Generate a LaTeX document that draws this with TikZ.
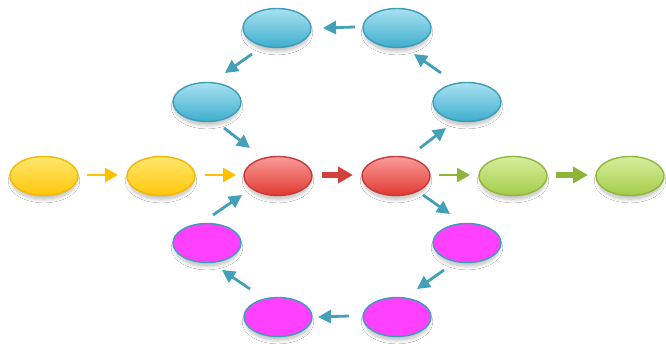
\documentclass[tikz,border=0pt]{standalone}
\usetikzlibrary{arrows.meta,calc,shapes.geometric,shadows.blur}

\definecolor{ylwTop}{HTML}{FFE66E}
\definecolor{ylwBot}{HTML}{FFC70A}
\definecolor{ylwLine}{HTML}{F5B800}
\definecolor{redTop}{HTML}{F99C9A}
\definecolor{redBot}{HTML}{E0392F}
\definecolor{redLine}{HTML}{C9393A}
\definecolor{grnTop}{HTML}{D6EF9E}
\definecolor{grnBot}{HTML}{A4CC48}
\definecolor{grnLine}{HTML}{92B53C}
\definecolor{bluTop}{HTML}{A8E1F3}
\definecolor{bluBot}{HTML}{3FAECB}
\definecolor{bluLine}{HTML}{3C9DB6}
\definecolor{magFill}{HTML}{FF40FF}
\definecolor{ylwArr}{HTML}{FFC000}
\definecolor{redArr}{HTML}{D0403D}
\definecolor{grnArr}{HTML}{8FB43A}
\definecolor{bluArr}{HTML}{43A0B8}

\tikzset{
  oval/.style={ellipse, minimum width=68pt, minimum height=39pt, line width=1.4pt,
    blur shadow={shadow xshift=0pt, shadow yshift=-5pt, shadow scale=0.94,
      shadow blur radius=4pt, shadow blur steps=12, shadow opacity=28}},
  ylw/.style={oval, draw=ylwLine, top color=ylwTop, bottom color=ylwBot},
  rd/.style={oval, draw=redLine, top color=redTop, bottom color=redBot},
  grn/.style={oval, draw=grnLine, top color=grnTop, bottom color=grnBot},
  blu/.style={oval, draw=bluLine, top color=bluTop, bottom color=bluBot},
  mag/.style={oval, draw=bluLine, fill=magFill},
  thinarr/.style={line width=2.6pt, -{Triangle[length=13pt,width=14pt]}},
  thickarr/.style={line width=6pt, -{Triangle[length=15pt,width=16pt]}},
  bluarr/.style={line width=2.8pt, bluArr, -{Triangle[length=13pt,width=13pt]}},
}

\begin{document}
\begin{tikzpicture}[x=1pt, y=-1pt]
\useasboundingbox (0,0) rectangle (666,344);
\fill[white] (0,0) rectangle (666,344);

% main row
\node[ylw] (y1) at (44,176) {};
\node[ylw] (y2) at (161,176) {};
\node[rd]  (r1) at (278,176) {};
\node[rd]  (r2) at (396,176) {};
\node[grn] (g1) at (513,176) {};
\node[grn] (g2) at (630,176) {};

% upper ring
\node[blu] (bl) at (207,102) {};
\node[blu] (tl) at (277,28) {};
\node[blu] (tr) at (397,28) {};
\node[blu] (br) at (467,102) {};

% lower ring
\node[mag] (ml) at (207,243) {};
\node[mag] (bbl) at (278,317) {};
\node[mag] (bbr) at (397,317) {};
\node[mag] (mr) at (467,243) {};

% arrows along the row
\draw[thinarr, ylwArr] ($(y1)+(43,-1)$) -- ($(y2)+(-43,-1)$);
\draw[thinarr, ylwArr] ($(y2)+(44,-1)$) -- ($(r1)+(-42,-1)$);
\draw[thickarr, redArr] ($(r1)+(44,-1)$) -- ($(r2)+(-43,-1)$);
\draw[thinarr, grnArr] ($(r2)+(43,-1)$) -- ($(g1)+(-43,-1)$);
\draw[thickarr, grnArr] ($(g1)+(43,-1)$) -- ($(g2)+(-42,-1)$);

% upper loop
\draw[bluarr] ($(r2)+(24,-28)$) -- ($(br)+(-21,26)$);
\draw[bluarr] ($(br)+(-26,-29)$) -- ($(tr)+(17,26)$);
\draw[bluarr] ($(tr)+(-42,-1)$) -- ($(tl)+(46,0)$);
\draw[bluarr] ($(tl)+(-25,26)$) -- ($(bl)+(18,-29)$);
\draw[bluarr] ($(bl)+(17,26)$) -- ($(r1)+(-28,-28)$);

% lower loop
\draw[bluarr] ($(r2)+(27,19)$) -- ($(mr)+(-17,-29)$);
\draw[bluarr] ($(mr)+(-23,27)$) -- ($(bbr)+(20,-28)$);
\draw[bluarr] ($(bbr)+(-48,-1)$) -- ($(bbl)+(40,0)$);
\draw[bluarr] ($(bbl)+(-28,-28)$) -- ($(ml)+(15,27)$);
\draw[bluarr] ($(ml)+(6,-28)$) -- ($(r1)+(-36,19)$);
\end{tikzpicture}
\end{document}
